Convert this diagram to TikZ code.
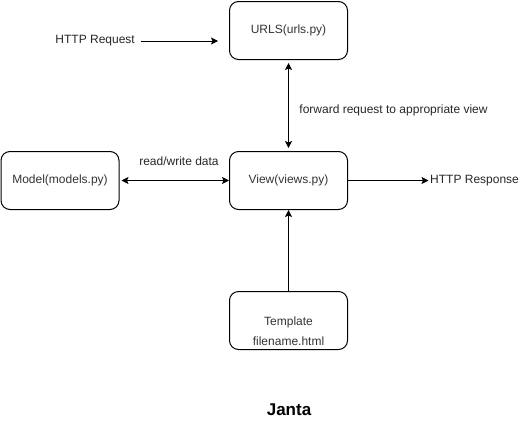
\documentclass[tikz,border=0pt]{standalone}
\usepackage{fontspec}
\setmainfont{Liberation Sans}
\usetikzlibrary{arrows.meta}

\begin{document}
\begin{tikzpicture}[x=1pt, y=-1pt, font=\fontsize{12}{14}\selectfont,
  box/.style={draw, rounded corners=9pt, line width=1pt, minimum width=118pt, minimum height=58pt, text=black!80},
  lbl/.style={text=black!85, inner sep=0pt},
  link/.style={line width=1pt, -{Stealth[length=7pt, width=7pt, inset=1.5pt]}},
  both/.style={line width=1pt, {Stealth[length=7pt, width=7pt, inset=1.5pt]}-{Stealth[length=7pt, width=7pt, inset=1.5pt]}}]

\useasboundingbox (0,0) rectangle (526,426);

%%% boxes
\node[box] (urls) at (288.5,30.5) {URLS(urls.py)};
\node[box] (view) at (288.5,180.5) {View(views.py)};
\node[box] (model) at (60,180.5) {Model(models.py)};
\node[box] (tmpl) at (288.5,320.5) {};
\node[lbl, align=center, text=black!80, font=\fontsize{12}{20}\selectfont] (tmpltext) at (288.5,331) {Template\\filename.html};

%%% free texts
\node[lbl, anchor=east] (req) at (135,41) {HTTP Request};
\node[lbl, anchor=west] (resp) at (430,180.5) {HTTP Response};
\node[lbl] (fwd) at (393.5,110) {forward request to appropriate view};
\node[lbl] (rw) at (179,161) {read/write data};
\node[font=\bfseries\fontsize{17}{20}\selectfont] (title) at (289,410) {Janta};

%%% arrows
\draw[link, shorten <=6pt, shorten >=11pt] (req.east) -- (urls.west |- req.east);
\draw[both, shorten <=3pt, shorten >=3pt] (urls) -- (view);
\draw[both, shorten <=2pt] (model) -- (view);
\draw[link, shorten >=1.5pt] (view) -- (resp.west);
\draw[link] (tmpl) -- (view);

\end{tikzpicture}
\end{document}
